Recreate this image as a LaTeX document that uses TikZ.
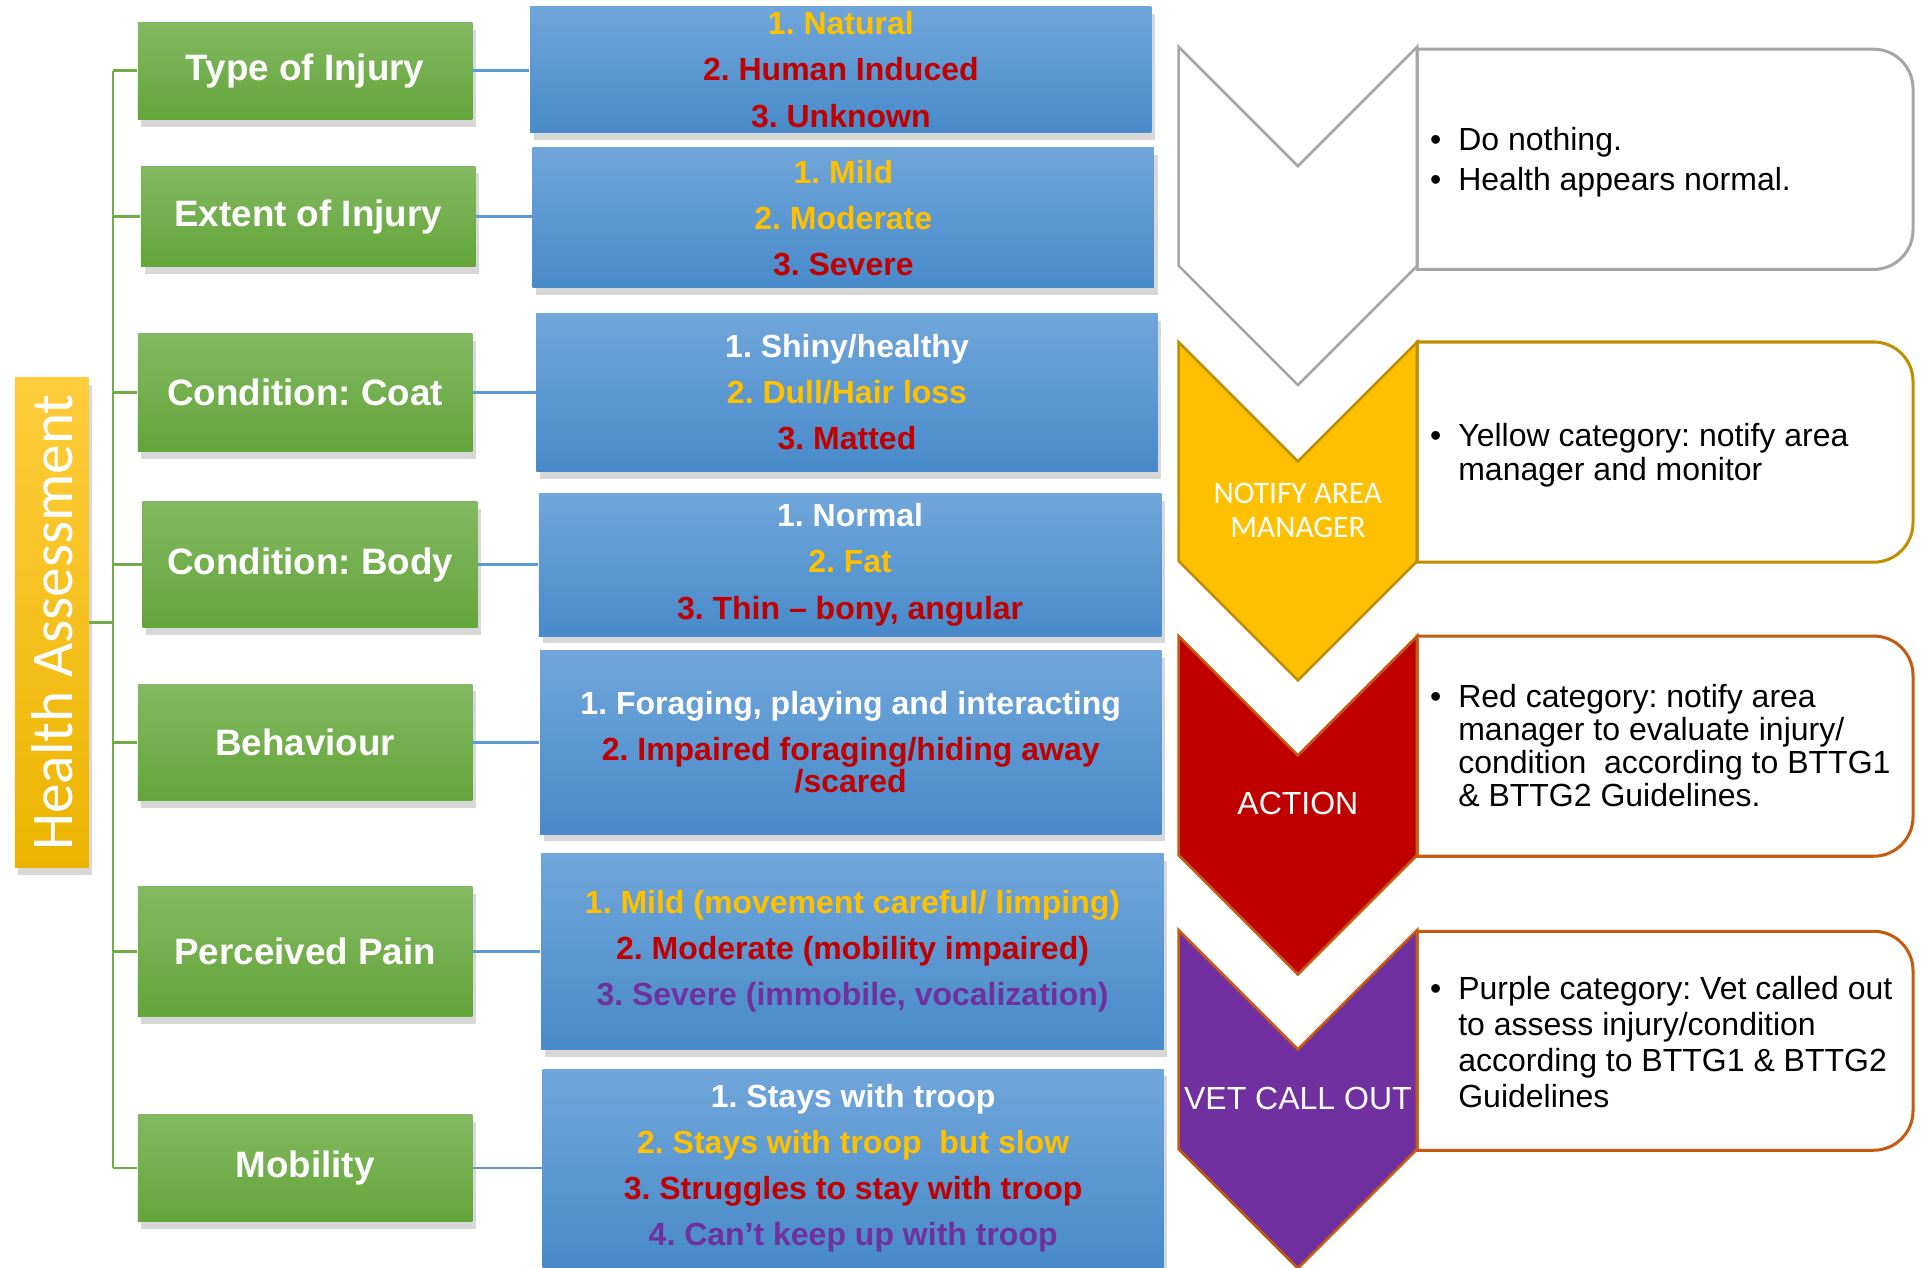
\documentclass[tikz,border=0pt]{standalone}
\usepackage{fontspec}
\setmainfont{Liberation Sans}
\newfontfamily\calibrifont{Carlito}
\usetikzlibrary{shadows}
\frenchspacing

\definecolor{hatop}{RGB}{255,205,60}
\definecolor{habot}{RGB}{236,180,0}
\definecolor{greentop}{RGB}{131,185,98}
\definecolor{greenbot}{RGB}{99,165,57}
\definecolor{bluetop}{RGB}{112,166,218}
\definecolor{bluebot}{RGB}{72,138,202}
\definecolor{txtyellow}{RGB}{255,192,0}
\definecolor{txtred}{RGB}{192,0,0}
\definecolor{txtpurple}{RGB}{112,48,160}
\definecolor{treegreen}{RGB}{112,173,71}
\definecolor{treeblue}{RGB}{91,155,213}
\definecolor{graybdr}{RGB}{166,166,166}
\definecolor{goldbdr}{RGB}{191,143,0}
\definecolor{orgbdr}{RGB}{197,90,17}

\begin{document}
\begin{tikzpicture}[x=0.1mm, y=-0.1mm,
	boxshadow/.style={drop shadow={opacity=0.3, shadow xshift=0.3mm, shadow yshift=-0.6mm}},
	habox/.style={boxshadow, top color=hatop, bottom color=habot, minimum width=6mm, minimum height=39.8mm},
	catbox/.style={boxshadow, top color=greentop, bottom color=greenbot, text=white, minimum width=27.2mm, font=\fontsize{8.5}{10}\selectfont\bfseries},
	optbox/.style={boxshadow, top color=bluetop, bottom color=bluebot, text=white, inner sep=0pt, align=center, font=\fontsize{7.4}{10.67}\selectfont\bfseries},
	greenline/.style={draw=treegreen, line width=0.6pt},
	blueline/.style={draw=treeblue, line width=0.6pt},
	chevtext/.style={text=white, align=center, font=\fontsize{7.4}{8}\selectfont},
	notetext/.style={anchor=west, align=left, font=\fontsize{7.4}{7.7}\selectfont}
]
	% Page
	\path[fill=white, use as bounding box] (0,0) rectangle (1568,1030);

	% Root of the tree
	\node[habox] (ha) at (42,506) {};
	\node[rotate=90, text=white, font=\calibrifont\fontsize{13.7}{15}\selectfont] (hatext) at (ha) {Health Assessment};

	% Assessment categories
	\foreach \n/\x/\y/\h/\t in {c1/248/57.5/7.9/Type of Injury,
		c2/250.5/176/8.2/Extent of Injury,
		c3/248/319/9.6/Condition: Coat,
		c4/252/459/10.2/Condition: Body,
		c5/248/603.5/9.5/Behaviour,
		c6/248/773.5/10.5/Perceived Pain,
		c7/248/949.5/8.7/Mobility} {
		\node[catbox, minimum height=\h mm] (\n) at (\x,\y) {\t};
	}

	% Scores for each category
	\node[optbox, minimum width=50.5mm, minimum height=10.3mm] (o1) at (683.5,56.5)
		{\textcolor{txtyellow}{1. Natural}\\ \textcolor{txtred}{2. Human Induced}\\ \textcolor{txtred}{3. Unknown}};
	\node[optbox, minimum width=50.5mm, minimum height=11.4mm] (o2) at (685.5,177)
		{\textcolor{txtyellow}{1. Mild}\\ \textcolor{txtyellow}{2. Moderate}\\ \textcolor{txtred}{3. Severe}};
	\node[optbox, minimum width=50.5mm, minimum height=12.8mm] (o3) at (688.5,319)
		{1. Shiny/healthy\\ \textcolor{txtyellow}{2. Dull/Hair loss}\\ \textcolor{txtred}{3. Matted}};
	\node[optbox, minimum width=50.6mm, minimum height=11.6mm] (o4) at (691,459)
		{1. Normal\\ \textcolor{txtyellow}{2. Fat}\\ \textcolor{txtred}{3. Thin -- bony, angular}};
	\node[optbox, minimum width=50.5mm, minimum height=14.9mm] (o5) at (691.5,603.5)
		{1. Foraging, playing and interacting\\ \textcolor{txtred}{2. Impaired foraging/hiding away}\\[-3.3pt] \textcolor{txtred}{/scared}};
	\node[optbox, minimum width=50.6mm, minimum height=15.9mm] (o6) at (693,773.5)
		{\textcolor{txtyellow}{1. Mild (movement careful/ limping)}\\ \textcolor{txtred}{2. Moderate (mobility impaired)}\\ \textcolor{txtpurple}{3. Severe (immobile, vocalization)}};
	\node[optbox, minimum width=50.5mm, minimum height=16.1mm] (o7) at (693.5,949.5)
		{1. Stays with troop\\ \textcolor{txtyellow}{2. Stays with troop\ \ but slow}\\ \textcolor{txtred}{3. Struggles to stay with troop}\\ \textcolor{txtpurple}{4. Can’t keep up with troop}};

	% Tree connectors
	\coordinate (trunktop) at (92,57.5);
	\coordinate (trunkbot) at (92,949.5);
	\draw[greenline] (trunktop) -- (trunkbot);
	\draw[greenline] (ha.east) -- (ha.east -| trunktop);
	\foreach \n in {1,...,7} {
		\draw[greenline] (c\n.west -| trunktop) -- (c\n.west);
		\draw[blueline] (c\n.east) -- (c\n.east -| o\n.west);
	}

	% Chevrons
	\filldraw[fill=white, draw=graybdr, line width=0.6pt] (958,38) -- (1055,135) -- (1152,38) -- (1152,216) -- (1055,313) -- (958,216) -- cycle;
	\filldraw[fill=txtyellow, draw=goldbdr, line width=0.6pt] (958,278) -- (1055,375) -- (1152,278) -- (1152,456) -- (1055,553) -- (958,456) -- cycle;
	\filldraw[fill=txtred, draw=orgbdr, line width=0.6pt] (958,517) -- (1055,614) -- (1152,517) -- (1152,695) -- (1055,792) -- (958,695) -- cycle;
	\filldraw[fill=txtpurple, draw=orgbdr, line width=0.6pt] (958,756) -- (1055,853) -- (1152,756) -- (1152,934) -- (1055,1031) -- (958,934) -- cycle;
	\node[chevtext, font=\calibrifont\fontsize{7.25}{8}\selectfont] (notify) at (1055,415) {NOTIFY AREA\\MANAGER};
	\node[chevtext] (action) at (1055,653) {ACTION};
	\node[chevtext] (vetcall) at (1055,893) {VET CALL OUT};

	% Notes beside the chevrons
	\foreach \t/\b/\c in {40/219/graybdr, 278/457/goldbdr, 517/696/orgbdr, 757/935/orgbdr} {
		\draw[draw=\c, line width=0.7pt] (1152,\t) -- (1523,\t) arc[start angle=-90, end angle=0, radius=32]
			-- (1555,\b-32) arc[start angle=0, end angle=90, radius=32] -- (1152,\b) -- cycle;
	}
	\node[notetext, font=\fontsize{7.4}{9.1}\selectfont] (note1) at (1150,132)
		{\makebox[2.3mm][l]{\textbullet}Do nothing.\\ \makebox[2.3mm][l]{\textbullet}Health appears normal.};
	\node[notetext] (note2) at (1150,370)
		{\makebox[2.3mm][l]{\textbullet}Yellow category: notify area\\ \hspace*{2.3mm}manager and monitor};
	\node[notetext, font=\fontsize{7.4}{7.6}\selectfont] (note3) at (1150,606)
		{\makebox[2.3mm][l]{\textbullet}Red category: notify area\\ \hspace*{2.3mm}manager to evaluate injury/\\ \hspace*{2.3mm}condition\ \ according to BTTG1\\ \hspace*{2.3mm}\& BTTG2 Guidelines.};
	\node[notetext, font=\fontsize{7.4}{8.35}\selectfont] (note4) at (1150,847)
		{\makebox[2.3mm][l]{\textbullet}Purple category: Vet called out\\ \hspace*{2.3mm}to assess injury/condition\\ \hspace*{2.3mm}according to BTTG1 \& BTTG2\\ \hspace*{2.3mm}Guidelines};
\end{tikzpicture}
\end{document}
